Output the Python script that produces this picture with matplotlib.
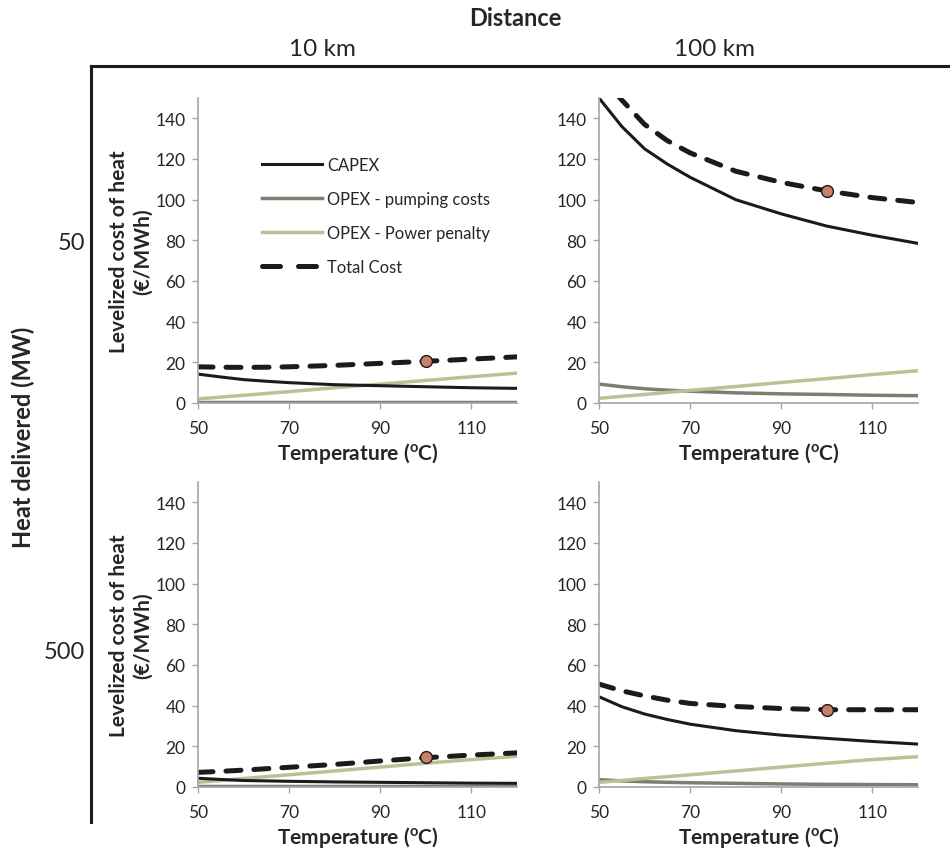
import matplotlib
matplotlib.use("Agg")
import matplotlib.pyplot as plt
from matplotlib.lines import Line2D

plt.rcParams['font.family'] = ['Lato', 'DejaVu Sans']
plt.rcParams['mathtext.fontset'] = 'custom'
plt.rcParams['mathtext.bf'] = 'Lato:bold'
plt.rcParams['mathtext.rm'] = 'Lato'

# temperatures (oC)
temps = [50, 55, 60, 65, 70, 80, 90, 100, 110, 120]

# 10 km, 50 MW
capex_10_50 = [14.2, 12.8, 11.5, 10.7, 10.0, 9.0, 8.5, 8.0, 7.5, 7.2]
pump_10_50 = [0.5, 0.5, 0.5, 0.5, 0.5, 0.5, 0.5, 0.5, 0.5, 0.5]
power_10_50 = [2.0, 2.9, 3.8, 4.7, 5.6, 7.5, 9.3, 11.1, 12.9, 14.7]
total_10_50 = [17.8, 17.6, 17.5, 17.6, 17.8, 18.5, 19.5, 20.5, 21.6, 22.7]

# 100 km, 50 MW
capex_100_50 = [150, 136, 125, 117.5, 111, 100, 93, 87, 82.5, 78.5]
pump_100_50 = [9.3, 8.0, 7.0, 6.3, 5.8, 5.0, 4.5, 4.2, 3.8, 3.6]
power_100_50 = [2.3, 3.3, 4.2, 5.2, 6.2, 8.1, 10.1, 12.0, 14.0, 15.9]
total_100_50 = [162, 149, 137, 129, 123, 114, 108.5, 104.3, 101, 98.6]

# 10 km, 500 MW
capex_10_500 = [4.3, 3.7, 3.2, 3.0, 2.8, 2.5, 2.3, 2.1, 1.9, 1.8]
pump_10_500 = [0.3, 0.3, 0.3, 0.3, 0.3, 0.3, 0.3, 0.3, 0.3, 0.3]
power_10_500 = [2.3, 3.2, 4.2, 5.1, 6.0, 7.9, 9.8, 11.7, 13.5, 15.1]
total_10_500 = [7.2, 7.7, 8.3, 9.0, 9.7, 11.1, 12.8, 14.4, 15.7, 16.8]

# 100 km, 500 MW
capex_100_500 = [44.4, 39.5, 35.9, 33.2, 30.9, 27.7, 25.5, 23.9, 22.4, 21.1]
pump_100_500 = [3.6, 3.0, 2.6, 2.3, 2.1, 1.8, 1.5, 1.3, 1.2, 1.1]
power_100_500 = [2.3, 3.2, 4.2, 5.1, 6.0, 7.9, 9.8, 11.7, 13.5, 14.9]
total_100_500 = [50.6, 47.3, 44.8, 42.7, 41.1, 39.6, 38.6, 38.0, 38.0, 38.0]

# highlighted design point (100 oC)
point_temp = 100
point_vals = [20.5, 104.3, 14.6, 38.0]

panels = [
    (capex_10_50, pump_10_50, power_10_50, total_10_50),
    (capex_100_50, pump_100_50, power_100_50, total_100_50),
    (capex_10_500, pump_10_500, power_10_500, total_10_500),
    (capex_100_500, pump_100_500, power_100_500, total_100_500),
]

c_capex = '#1c1a1b'
c_pump = '#7b7f6f'
c_power = '#b7c397'
c_dot = '#c9806a'
c_axis = '#a6a6a6'
c_text = '#262626'
dash = (0, (3.0, 2.6))

fig = plt.figure(figsize=(9.5, 8.54), dpi=100)
W, H = 950, 854

def fx(px):
    return px / W

def fy(py):
    return 1 - py / H

lefts = [198, 599]
rows = [(99, 404), (483, 788)]

axes = []
for r, (top, bot) in enumerate(rows):
    for c, left in enumerate(lefts):
        ax = fig.add_axes([fx(left), fy(bot), fx(319), (bot - top) / H])
        axes.append(ax)

for i, ax in enumerate(axes):
    capex, pump, power, total = panels[i]
    ax.plot(temps, pump, color=c_pump, lw=2.5, solid_capstyle='round')
    ax.plot(temps, power, color=c_power, lw=2.5, solid_capstyle='round')
    ax.plot(temps, capex, color=c_capex, lw=2.2, solid_capstyle='round')
    ax.plot(temps, total, color=c_capex, lw=3.6, linestyle=dash,
            dash_capstyle='round')
    ax.plot([point_temp], [point_vals[i]], 'o', ms=8.5, mfc=c_dot, mec=c_capex,
            mew=1.0, zorder=5)
    ax.set_xlim(50, 120)
    ax.set_ylim(0, 150)
    ax.set_xticks([50, 70, 90, 110])
    ax.set_yticks(range(0, 141, 20))
    for s in ['top', 'right']:
        ax.spines[s].set_visible(False)
    for s in ['left', 'bottom']:
        ax.spines[s].set_color(c_axis)
        ax.spines[s].set_linewidth(1.2)
    ax.tick_params(colors=c_axis, labelcolor=c_text, labelsize=12.5, length=4,
                   width=1.0, direction='out', pad=5)
    ax.tick_params(axis='x', pad=8)
    ax.set_xlabel(r'Temperature ($\mathbf{^o}$C)', fontsize=15, fontweight='bold',
                  color=c_text, labelpad=3)
    if i % 2 == 0:
        ax.set_ylabel('Levelized cost of heat\n(€/MWh)', fontsize=15,
                      fontweight='bold', color=c_text, labelpad=2,
                      linespacing=1.2)

# legend in the first panel
handles = [
    Line2D([], [], color=c_capex, lw=2.2),
    Line2D([], [], color=c_pump, lw=2.5),
    Line2D([], [], color=c_power, lw=2.5),
    Line2D([], [], color=c_capex, lw=3.6, linestyle=(0, (3.6, 3.6)),
           dash_capstyle='round'),
]
labels = ['CAPEX', 'OPEX - pumping costs', 'OPEX - Power penalty', 'Total Cost']
axes[0].legend(handles, labels, loc='upper left', bbox_to_anchor=(0.155, 0.855),
               frameon=False, fontsize=11.9, handlelength=3.6, labelspacing=1.08,
               handletextpad=0.3, labelcolor=c_text)

# outer labels and frame
fig.text(fx(515), fy(18), 'Distance', ha='center', va='center', fontsize=17,
         fontweight='bold', color=c_text)
fig.text(fx(322), fy(50), '10 km', ha='center', va='center', fontsize=17.5,
         color=c_text)
fig.text(fx(715), fy(50), '100 km', ha='center', va='center', fontsize=17.5,
         color=c_text)
fig.text(fx(23), fy(437), 'Heat delivered (MW)', ha='center', va='center',
         rotation=90, fontsize=17, fontweight='bold', color=c_text)
fig.text(fx(85), fy(243), '50', ha='right', va='center', fontsize=17,
         color=c_text)
fig.text(fx(85), fy(653), '500', ha='right', va='center', fontsize=17,
         color=c_text)
fig.add_artist(Line2D([fx(91), fx(950)], [fy(67), fy(67)], color=c_capex, lw=2.2))
fig.add_artist(Line2D([fx(91), fx(91)], [fy(67), fy(823)], color=c_capex, lw=2.2))

plt.savefig('out.png', dpi=100)
